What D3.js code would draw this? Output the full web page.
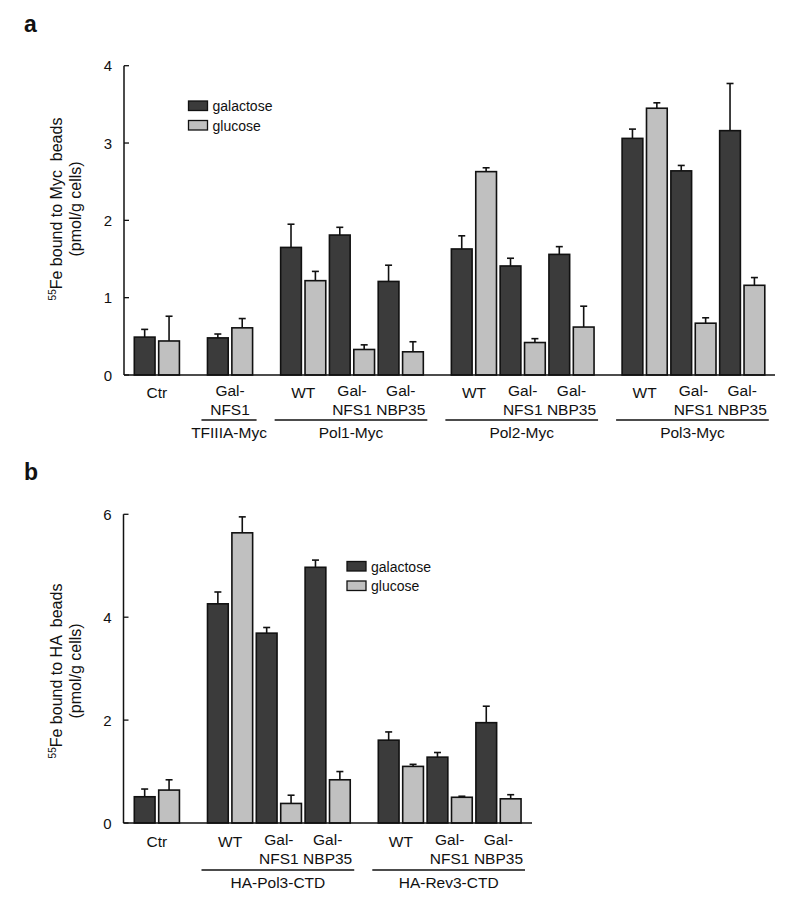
<!DOCTYPE html>
<html><head><meta charset="utf-8">
<script src="https://cdn.jsdelivr.net/npm/d3@7"></script>
<style>body{margin:0;background:#fff;}text{font-family:"Liberation Sans",Arial,sans-serif;fill:#111;white-space:pre;}</style>
</head><body><svg id="c" width="800" height="916"></svg>
<script>
// Panel a data
const aGroups = ["Ctr","TFIIIA-Myc","Pol1-Myc","Pol2-Myc","Pol3-Myc"];
const aStrains = [["Ctr"],["Gal-|NFS1"],["WT","Gal-|NFS1","Gal-|NBP35"],["WT","Gal-|NFS1","Gal-|NBP35"],["WT","Gal-|NFS1","Gal-|NBP35"]];
const aGal    = [0.49, 0.48, 1.65, 1.81, 1.21, 1.63, 1.41, 1.56, 3.06, 2.64, 3.16];
const aGalErr = [0.10, 0.05, 0.30, 0.10, 0.21, 0.17, 0.10, 0.10, 0.12, 0.07, 0.61];
const aGlu    = [0.44, 0.61, 1.22, 0.33, 0.30, 2.63, 0.42, 0.62, 3.45, 0.67, 1.16];
const aGluErr = [0.32, 0.12, 0.12, 0.06, 0.13, 0.05, 0.05, 0.27, 0.07, 0.07, 0.10];
const aTicks = [0,1,2,3,4];
// Panel b data
const bGroups = ["Ctr","HA-Pol3-CTD","HA-Rev3-CTD"];
const bStrains = [["Ctr"],["WT","Gal-|NFS1","Gal-|NBP35"],["WT","Gal-|NFS1","Gal-|NBP35"]];
const bGal    = [0.51, 4.26, 3.69, 4.97, 1.61, 1.28, 1.95];
const bGalErr = [0.15, 0.23, 0.11, 0.14, 0.16, 0.09, 0.32];
const bGlu    = [0.64, 5.64, 0.38, 0.84, 1.10, 0.50, 0.47];
const bGluErr = [0.20, 0.31, 0.16, 0.16, 0.04, 0.02, 0.08];
const bTicks = [0,2,4,6];
const series = ["galactose","glucose"];
const colors = {galactose:"#3b3b3b", glucose:"#c0c0c0"};

const svg = d3.select("#c");
const LF = 15.5;

function panel(opt){
  const g = svg.append("g");
  const slots = []; const strainInfo = []; const groupInfo = [];
  let si = 0;
  opt.strains.forEach((list, gi) => {
    if (gi > 0) { slots.push("gap"+gi); }
    const first = si;
    list.forEach(lbl => {
      strainInfo.push({label: lbl, group: gi, idx: si, s0: "s"+si+"gal", s1: "s"+si+"glu"});
      slots.push("s"+si+"gal"); slots.push("s"+si+"glu");
      si++;
    });
    groupInfo.push({name: opt.groups[gi], first, last: si-1});
  });
  const x = d3.scaleBand().domain(slots).range([opt.x0, opt.x0 + (slots.length-0.15)*opt.step]).paddingInner(0.15).paddingOuter(0);
  const y = d3.scaleLinear().domain([0, opt.ymax]).range([opt.yb, opt.yt]);

  const bars = [];
  strainInfo.forEach(s => {
    bars.push({slot: s.s0, v: opt.gal[s.idx], e: opt.galErr[s.idx], c: colors.galactose});
    bars.push({slot: s.s1, v: opt.glu[s.idx], e: opt.gluErr[s.idx], c: colors.glucose});
  });
  g.selectAll(".eb").data(bars).join("line")
    .attr("x1", d => x(d.slot)+x.bandwidth()/2).attr("x2", d => x(d.slot)+x.bandwidth()/2)
    .attr("y1", d => y(d.v)).attr("y2", d => y(d.v+d.e)).attr("stroke","#111").attr("stroke-width",1.6);
  g.selectAll(".cap").data(bars).join("line")
    .attr("x1", d => x(d.slot)+x.bandwidth()/2-3.5).attr("x2", d => x(d.slot)+x.bandwidth()/2+3.5)
    .attr("y1", d => y(d.v+d.e)).attr("y2", d => y(d.v+d.e)).attr("stroke","#111").attr("stroke-width",1.6);
  g.selectAll(".bar").data(bars).join("rect")
    .attr("x", d => x(d.slot)).attr("width", x.bandwidth())
    .attr("y", d => y(d.v)).attr("height", d => y(0)-y(d.v))
    .attr("fill", d => d.c).attr("stroke","#111").attr("stroke-width",1.6);

  g.append("line").attr("x1",opt.ax).attr("x2",opt.ax).attr("y1",y(opt.ymax)).attr("y2",y(0)).attr("stroke","#111").attr("stroke-width",1.5);
  g.append("line").attr("x1",opt.ax).attr("x2",opt.axEnd).attr("y1",y(0)).attr("y2",y(0)).attr("stroke","#111").attr("stroke-width",1.5);
  g.selectAll(".tk").data(opt.ticks).join("line")
    .attr("x1",opt.ax).attr("x2",opt.ax+5).attr("y1",d=>y(d)).attr("y2",d=>y(d)).attr("stroke","#111").attr("stroke-width",1.3);
  g.selectAll(".tl").data(opt.ticks).join("text")
    .attr("x",opt.ax-12).attr("y",d=>y(d)+5.5).attr("text-anchor","end").attr("font-size",15).text(d=>d);

  strainInfo.forEach(s => {
    const cx = (x(s.s0) + x(s.s1) + x.bandwidth())/2;
    const parts = s.label.split("|");
    if (parts.length === 1) {
      g.append("text").attr("x",cx).attr("y",opt.lab1+2).attr("text-anchor","middle").attr("font-size",LF).text(parts[0]);
    } else {
      g.append("text").attr("x",cx).attr("y",opt.lab1).attr("text-anchor","middle").attr("font-size",LF).text(parts[0]);
      g.append("text").attr("x",cx).attr("y",opt.lab1+19).attr("text-anchor","middle").attr("font-size",LF).text(parts[1]);
    }
  });
  groupInfo.forEach((gr) => {
    if (gr.name === "Ctr") return;
    const l = x("s"+gr.first+"gal") - 6, r = x("s"+gr.last+"glu") + x.bandwidth() + 4;
    g.append("line").attr("x1",l).attr("x2",r).attr("y1",opt.uline).attr("y2",opt.uline).attr("stroke","#111").attr("stroke-width",1.3);
    g.append("text").attr("x",(l+r)/2).attr("y",opt.uline+18).attr("text-anchor","middle").attr("font-size",LF).text(gr.name);
  });

  const yl = g.append("text").attr("transform",`translate(${opt.ylx},${opt.ylc}) rotate(-90)`).attr("text-anchor","middle").attr("font-size",16);
  yl.append("tspan").attr("font-size",10).attr("dy",-6).text("55");
  yl.append("tspan").attr("dy",6).text(opt.yl1);
  g.append("text").attr("transform",`translate(${opt.ylx+19},${opt.ylc}) rotate(-90)`).attr("text-anchor","middle").attr("font-size",16).text("(pmol/g cells)");

  series.forEach((s, i) => {
    g.append("rect").attr("x",opt.lx).attr("y",opt.ly + i*19.5).attr("width",19).attr("height",9.5)
      .attr("fill",colors[s]).attr("stroke","#111").attr("stroke-width",1.3);
    g.append("text").attr("x",opt.lx+24).attr("y",opt.ly + i*19.5 + 10).attr("font-size",14).text(s);
  });

  svg.append("text").attr("x",24).attr("y",opt.letterY).attr("font-size",23).attr("font-weight","bold").text(opt.letter);
}

panel({groups:aGroups, strains:aStrains, gal:aGal, galErr:aGalErr, glu:aGlu, gluErr:aGluErr, ticks:aTicks,
  ymax:4, yb:375, yt:65.7, x0:134.3, step:24.39, ax:124, axEnd:775, lab1:396, uline:420,
  ylx:62, ylc:209, yl1:"Fe bound to Myc  beads", lx:188.5, ly:101, letter:"a", letterY:31.5});
panel({groups:bGroups, strains:bStrains, gal:bGal, galErr:bGalErr, glu:bGlu, gluErr:bGluErr, ticks:bTicks,
  ymax:6, yb:823, yt:514.3, x0:134.3, step:24.4, ax:123.5, axEnd:532, lab1:845, uline:870,
  ylx:62, ylc:671, yl1:"Fe bound to HA  beads", lx:347, ly:561.5, letter:"b", letterY:480});
</script></body></html>
